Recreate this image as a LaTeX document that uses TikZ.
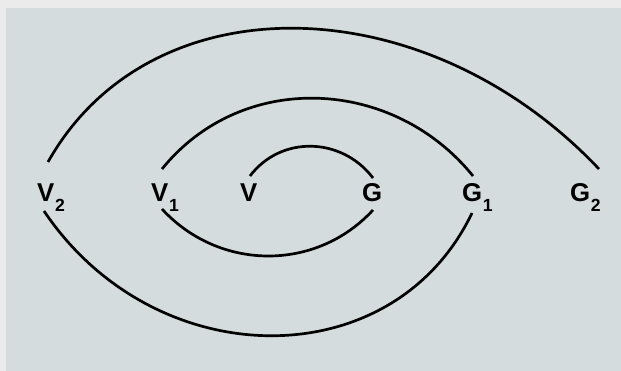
\documentclass[tikz,border=0pt]{standalone}
\usepackage{fontspec}
\newfontfamily\labfont{Liberation Sans}
\usepackage{tikz}
\definecolor{paper}{RGB}{213,220,222}
\definecolor{paperedge}{RGB}{234,235,234}
\tikzstyle{vertex} = [inner sep=0pt, anchor=base west,
    font=\labfont\bfseries\fontsize{22}{22}\selectfont]
\tikzstyle{arc} = [line width=2.3pt]
\newcommand{\sublab}[2]{#1\kern0.6pt\raisebox{-7.7pt}{\fontsize{15}{15}\selectfont #2}}

\begin{document}
\begin{tikzpicture}[x=0.03cm, y=-0.03cm]
    \useasboundingbox (0,0) rectangle (621,371);
    \fill[paperedge] (0,0) rectangle (621,371);
    \fill[paper] (6,8) rectangle (621,371);

    % labels
    \node [vertex] (V2) at (37,202) {\sublab{V}{2}};
    \node [vertex] (V1) at (151,202) {\sublab{V}{1}};
    \node [vertex] (V) at (240,202) {V};
    \node [vertex] (G) at (362,202) {G};
    \node [vertex] (G1) at (462,202) {\sublab{G}{1}};
    \node [vertex] (G2) at (570,202) {\sublab{G}{2}};

    % upper arcs
    \draw [arc] ([shift={(11,-40)}]V2.base west)
        .. controls +(103,-183) and +(-173,-183) .. ([shift={(29,-33)}]G2.base west);
    \draw [arc] ([shift={(11,-33)}]V1.base west)
        .. controls +(80,-99) and +(-80,-99) .. ([shift={(11,-26)}]G1.base west);
    \draw [arc] ([shift={(10,-26)}]V.base west)
        .. controls +(31,-41) and +(-31,-41) .. ([shift={(11,-24)}]G.base west);

    % lower arcs
    \draw [arc] ([shift={(11,7)}]V1.base west)
        .. controls +(57,62) and +(-57,62) .. ([shift={(11,8)}]G.base west);
    \draw [arc] ([shift={(7,9)}]V2.base west)
        .. controls +(111,165) and +(-79,165) .. ([shift={(10,11)}]G1.base west);
\end{tikzpicture}
\end{document}
